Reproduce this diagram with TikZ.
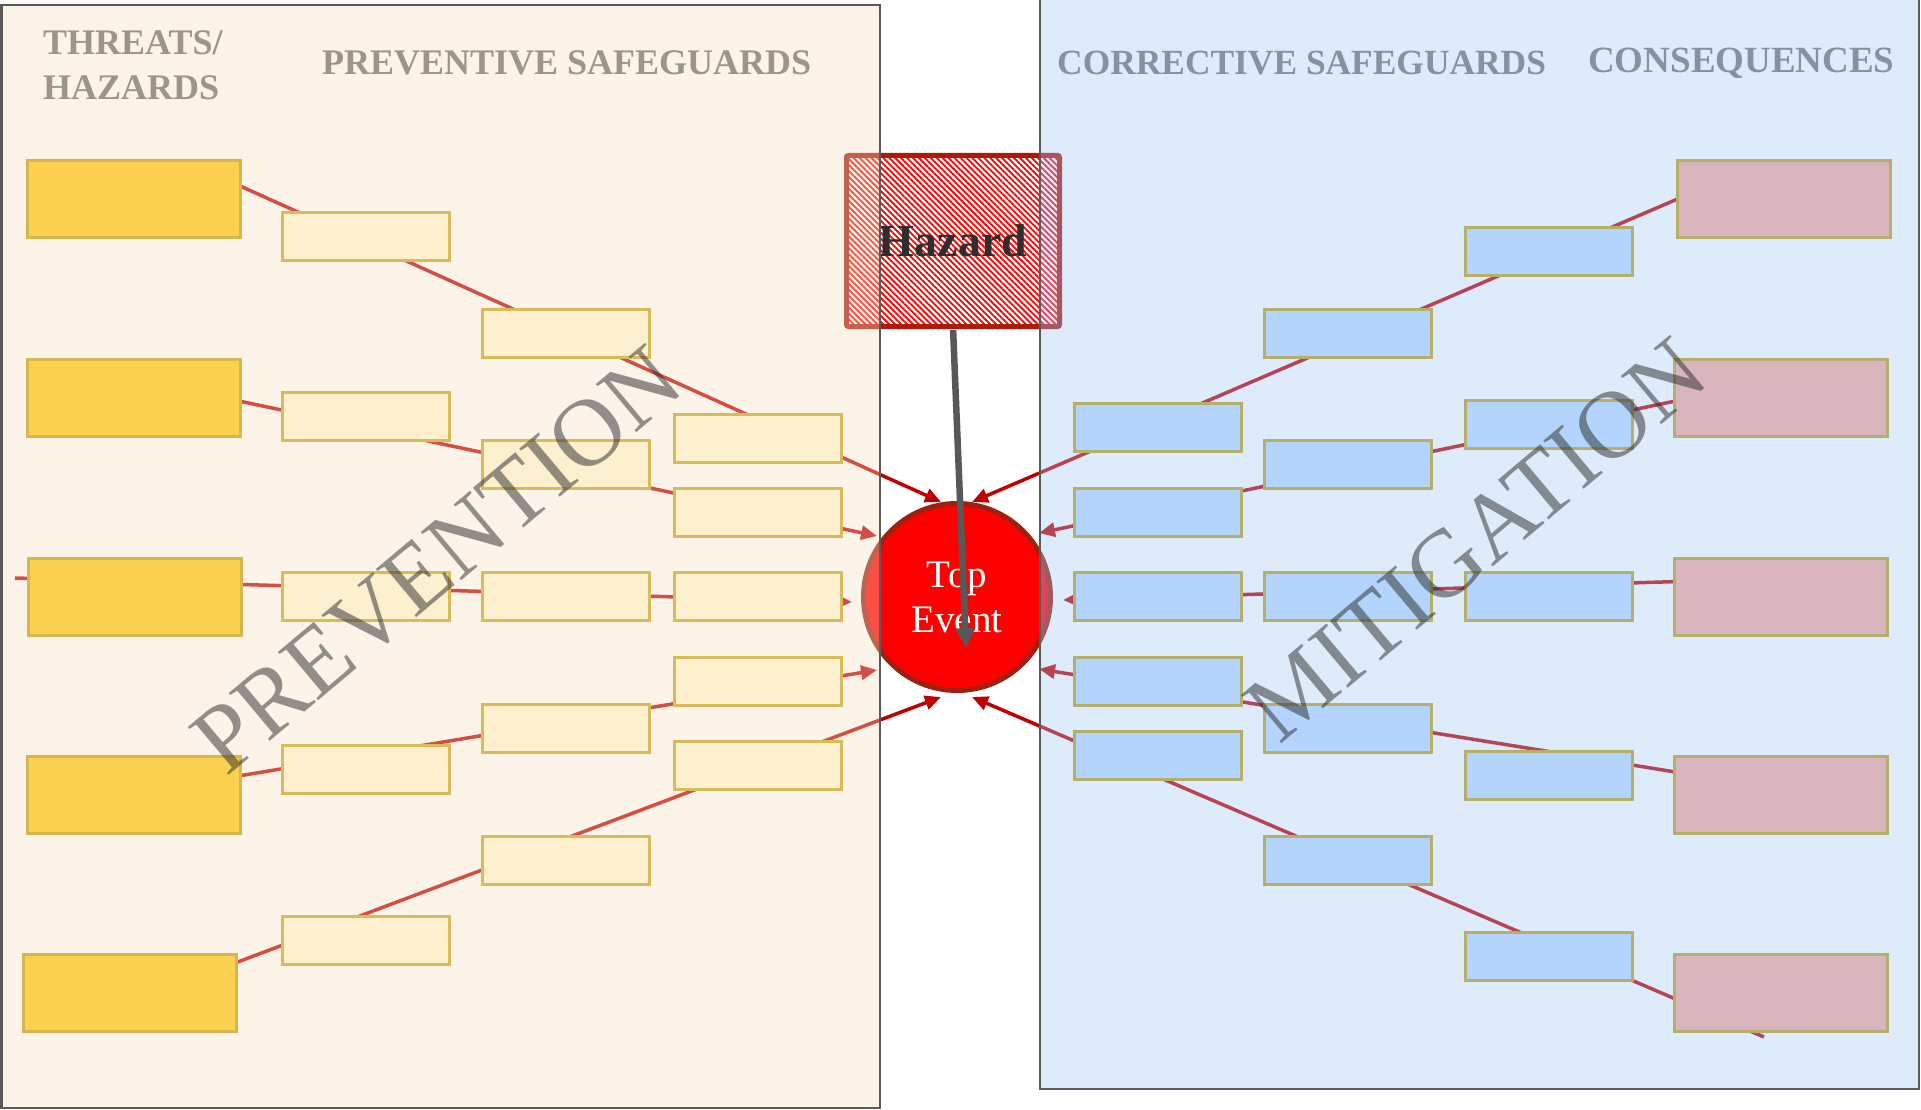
\documentclass[tikz,border=0pt]{standalone}
\usepackage{fontspec}
\setmainfont{Liberation Serif}
\usetikzlibrary{arrows.meta,patterns.meta,calc}

\pgfdeclarelayer{bg}
\pgfdeclarelayer{links}
\pgfdeclarelayer{core}
\pgfdeclarelayer{panels}
\pgfdeclarelayer{top}
\pgfsetlayers{bg,links,core,panels,main,top}

\definecolor{threatfill}{HTML}{FCD050}
\definecolor{threatline}{HTML}{D6B74F}
\definecolor{prevboxfill}{HTML}{FDF0CF}
\definecolor{prevline}{HTML}{D8BC5A}
\definecolor{corrfill}{HTML}{B3D4FC}
\definecolor{corrline}{HTML}{B5AF6B}
\definecolor{consfill}{HTML}{D9B6BF}
\definecolor{consline}{HTML}{B5AF6B}
\definecolor{linkred}{HTML}{C00000}
\definecolor{topred}{HTML}{FF0000}
\definecolor{topline}{HTML}{9E2010}
\definecolor{hazline}{HTML}{A81C0C}
\definecolor{hazred}{HTML}{FF0000}
\definecolor{hazardtext}{HTML}{2E2E2E}
\definecolor{hazarrow}{HTML}{585858}
\definecolor{panelline}{HTML}{5A5A5A}
\definecolor{prevpanel}{HTML}{FAE0C2}
\definecolor{mitpanel}{HTML}{A1C6F6}
\definecolor{lefthead}{HTML}{9E958A}
\definecolor{righthead}{HTML}{8592A5}
\definecolor{wmgray}{HTML}{303030}

\tikzset{
  threatbox/.style={draw=threatline, fill=threatfill, line width=3pt,
    minimum width=213pt, minimum height=77pt, inner sep=0pt, outer sep=0pt},
  consbox/.style={threatbox, draw=consline, fill=consfill},
  prevbox/.style={draw=prevline, fill=prevboxfill, line width=3pt,
    minimum width=167pt, minimum height=48pt, inner sep=0pt, outer sep=0pt},
  corrbox/.style={prevbox, draw=corrline, fill=corrfill},
  redlink/.style={draw=linkred, line width=3.5pt,
    -{Triangle[length=16pt,width=14pt]}},
  panelbox/.style={draw=panelline, line width=2.5pt, fill opacity=0.35},
  header/.style={font=\fontsize{36}{45}\selectfont\bfseries, inner sep=0pt},
  watermark/.style={font=\fontsize{96}{96}\selectfont, text=wmgray,
    text opacity=0.52, inner sep=0pt, rotate=40},
}

\begin{document}
\begin{tikzpicture}[x=1pt,y=1pt]
\useasboundingbox (0,0) rectangle (1921,-1110);
\begin{pgfonlayer}{bg}
  \fill[white] (0,0) rectangle (1921,-1110);
\end{pgfonlayer}

% threats / hazards
\node[threatbox] (T1) at (133.5,-199) {};
\node[threatbox] (T2) at (133.5,-397.5) {};
\node[threatbox] (T3) at (135,-596.5) {};
\node[threatbox] (T4) at (133.5,-794.5) {};
\node[threatbox] (T5) at (130,-993) {};

% preventive safeguards
\node[prevbox] (A1) at (366,-236.4) {};
\node[prevbox] (A2) at (366,-416.5) {};
\node[prevbox] (A3) at (366,-596.6) {};
\node[prevbox] (A4) at (366,-769.4) {};
\node[prevbox] (A5) at (366,-940.9) {};
\node[prevbox] (B1) at (566,-333.2) {};
\node[prevbox] (B2) at (566,-464.5) {};
\node[prevbox] (B3) at (566,-596.6) {};
\node[prevbox] (B4) at (566,-728.2) {};
\node[prevbox] (B5) at (566,-860) {};
\node[prevbox] (C1) at (758,-438) {};
\node[prevbox] (C2) at (758,-512.5) {};
\node[prevbox] (C3) at (758,-596.5) {};
\node[prevbox] (C4) at (758,-681) {};
\node[prevbox] (C5) at (758,-765.5) {};

% corrective safeguards
\node[corrbox] (D1) at (1157.5,-427.5) {};
\node[corrbox] (D2) at (1157.5,-512.5) {};
\node[corrbox] (D3) at (1157.5,-596.5) {};
\node[corrbox] (D4) at (1157.5,-681) {};
\node[corrbox] (D5) at (1157.5,-755) {};
\node[corrbox] (E1) at (1348,-333.2) {};
\node[corrbox] (E2) at (1348,-464.5) {};
\node[corrbox] (E3) at (1348,-596.6) {};
\node[corrbox] (E4) at (1348,-728.2) {};
\node[corrbox] (E5) at (1348,-860) {};
\node[corrbox] (F1) at (1549,-251) {};
\node[corrbox] (F2) at (1549,-424) {};
\node[corrbox] (F3) at (1549,-596.6) {};
\node[corrbox] (F4) at (1549,-775.5) {};
\node[corrbox] (F5) at (1549,-956.5) {};

% consequences
\node[consbox] (Q1) at (1784,-199) {};
\node[consbox] (Q2) at (1781,-397.5) {};
\node[consbox] (Q3) at (1781,-596.6) {};
\node[consbox] (Q4) at (1781,-794.5) {};
\node[consbox] (Q5) at (1781,-993) {};

% top event and hazard
\begin{pgfonlayer}{core}
  \node[circle, draw=topline, fill=topred, line width=5pt, minimum size=187pt,
        inner sep=0pt, text=white, align=center,
        font=\fontsize{39}{45}\selectfont] (TE) at (957,-597) {Top\\Event};
  \node[draw=hazline, line width=5pt, rounded corners=2pt,
        minimum width=213pt, minimum height=171pt, inner sep=0pt,
        preaction={fill=white},
        pattern={Lines[angle=-45,distance=4.2pt,line width=1.8pt]},
        pattern color=hazred, text=hazardtext,
        font=\fontsize{46}{46}\selectfont\bfseries] (Hz) at (953,-241) {Hazard};
\end{pgfonlayer}

% threat lines through the preventive barriers, consequence lines through the corrective ones
\coordinate (t3tail) at (15,-578);
\coordinate (q5tail) at (1764,-1037);
\begin{pgfonlayer}{links}
  \draw[redlink] (T1.7.4)  -- ($(TE.center)+(-16,95)$);
  \draw[redlink] (T2.-2.9) -- ($(TE.center)+(-80,61)$);
  \draw[redlink] (t3tail)  -- ($(TE.center)+(-105,-5)$);
  \draw[redlink] (T4.10.6) -- ($(TE.center)+(-80,-73)$);
  \draw[redlink] (T5.16.7) -- ($(TE.center)+(-16,-100)$);
  \draw[redlink] (Q1.west)  -- ($(TE.center)+(15,95)$);
  \draw[redlink] (Q2.182.4) -- ($(TE.center)+(82,64)$);
  \draw[redlink] (Q3.172.3) -- ($(TE.center)+(106,-3)$);
  \draw[redlink] (Q4.168.7) -- ($(TE.center)+(82,-72)$);
  \draw[redlink] (q5tail)   -- ($(TE.center)+(15,-100)$);
\end{pgfonlayer}

% prevention and mitigation panels
\begin{pgfonlayer}{panels}
  \path[panelbox, fill=prevpanel] (1.25,-5) rectangle (880,-1108);
  \path[panelbox, fill=mitpanel] (1040,3) rectangle (1918.75,-1089);
\end{pgfonlayer}

% panel titles
\node[watermark] (prevmark) at (437,-560) {PREVENTION};
\node[watermark] (mitmark) at (1476,-540) {MITIGATION};

% column headers
\node[header, text=lefthead, anchor=north west, align=left] (thrhead) at (43,-30) {THREATS/\\HAZARDS};
\node[header, text=lefthead, anchor=base west] (prevhead) at (322,-75) {PREVENTIVE SAFEGUARDS};
\node[header, text=righthead, anchor=base west, font=\fontsize{35.4}{45}\selectfont\bfseries] (corrhead) at (1057,-75) {CORRECTIVE SAFEGUARDS};
\node[header, text=righthead, anchor=base west, font=\fontsize{37}{45}\selectfont\bfseries] (conshead) at (1588,-73) {CONSEQUENCES};

% hazard releases the top event
\begin{pgfonlayer}{top}
  \draw[line width=6.5pt, draw=hazarrow, shorten <=2.5pt,
        -{Triangle[length=20pt,width=19pt]}] (Hz.south) -- ($(TE.center)+(9,-51)$);
\end{pgfonlayer}
\end{tikzpicture}
\end{document}
